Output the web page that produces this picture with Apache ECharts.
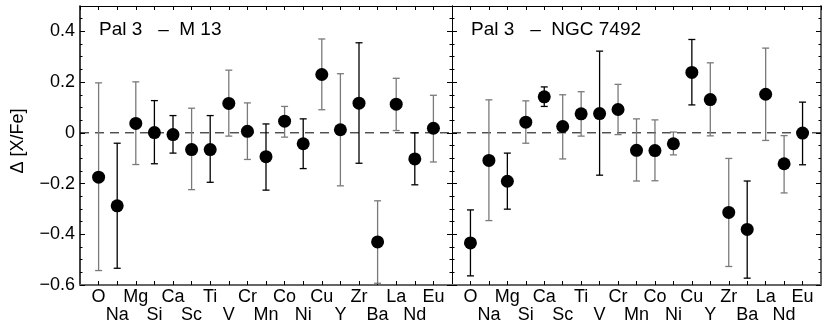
<!DOCTYPE html>
<html><head><meta charset="utf-8">
<script src="https://cdn.jsdelivr.net/npm/echarts@6/dist/echarts.min.js"></script>
<style>html,body{margin:0;padding:0;background:#fff}#c{width:830px;height:331px}</style>
</head><body><div id="c"></div>
<script>
const elements = ['O','Na','Mg','Si','Ca','Sc','Ti','V','Cr','Mn','Co','Ni','Cu','Y','Zr','Ba','La','Nd','Eu'];
const yTickLabels = ['−0.6','−0.4','−0.2','0','0.2','0.4'];
const panelTitles = ['Pal 3   –  M 13', 'Pal 3   –  NGC 7492'];
// Pal 3 - M 13
const m13Value = [-0.175,-0.288,0.037,0.001,-0.007,-0.066,-0.066,0.116,0.006,-0.094,0.046,-0.043,0.230,0.012,0.117,-0.430,0.113,-0.103,0.018];
const m13Upper = [0.197,-0.041,0.201,0.127,0.068,0.097,0.068,0.247,0.118,0.035,0.104,0.055,0.370,0.233,0.355,-0.268,0.215,0.000,0.148];
const m13Lower = [-0.543,-0.534,-0.125,-0.122,-0.080,-0.224,-0.195,-0.013,-0.105,-0.226,-0.017,-0.141,0.091,-0.209,-0.120,-0.593,0.009,-0.205,-0.115];
// Pal 3 - NGC 7492
const n7492Value = [-0.434,-0.109,-0.191,0.042,0.142,0.025,0.075,0.076,0.092,-0.069,-0.070,-0.043,0.238,0.131,-0.314,-0.381,0.152,-0.122,-0.001];
const n7492Upper = [-0.304,0.130,-0.080,0.126,0.181,0.150,0.162,0.322,0.191,0.055,0.051,0.003,0.368,0.276,-0.101,-0.190,0.334,-0.011,0.121];
const n7492Lower = [-0.564,-0.346,-0.301,-0.041,0.104,-0.103,-0.013,-0.167,-0.007,-0.190,-0.189,-0.087,0.110,-0.012,-0.527,-0.573,-0.030,-0.237,-0.126];

// styling: which error bars are drawn in black (others grey)
const blackBars = [
  ['Na','Si','Ca','Ti','Mn','Ni','Zr','Nd'],
  ['O','Mg','Ca','V','Cu','Ba','Eu']
];

const chart = echarts.init(document.getElementById('c'));
const FONT = 'Liberation Sans, Arial, Helvetica, sans-serif';
const grids = [
  {left: 80, right: 378, top: 6, bottom: 46},
  {left: 452, right: 9, top: 6, bottom: 46}
];
const xAxes = [], yAxes = [], series = [];
const panels = [[m13Value, m13Upper, m13Lower], [n7492Value, n7492Upper, n7492Lower]];

grids.forEach((g, gi) => {
  xAxes.push({
    gridIndex: gi, type: 'value', min: 0, max: 20, interval: 1, position: 'bottom',
    axisLine: {show: true, onZero: false, lineStyle: {color: '#666', width: 2}},
    axisTick: {show: true, inside: true, length: 4, lineStyle: {color: '#000'}},
    splitLine: {show: false},
    axisLabel: {
      show: true, fontFamily: FONT, fontSize: 18, color: '#000', margin: 3, lineHeight: 18,
      showMinLabel: false, showMaxLabel: false,
      formatter: v => {
        const i = Math.round(v) - 1;
        if (i < 0 || i >= elements.length) return '';
        return i % 2 === 1 ? '\n' + elements[i] : elements[i];
      }
    }
  });
  xAxes.push({
    gridIndex: gi, type: 'value', min: 0, max: 20, interval: 1, position: 'top',
    axisLine: {show: true, onZero: false, lineStyle: {color: '#000', width: 1}},
    axisTick: {show: true, inside: true, length: 4, lineStyle: {color: '#000'}},
    splitLine: {show: false}, axisLabel: {show: false}
  });
  yAxes.push({
    gridIndex: gi, type: 'value', min: -0.6, max: 0.5, interval: 0.2, position: 'left',
    axisLine: {show: true, onZero: false, lineStyle: {color: '#000', width: gi === 0 ? 1.5 : 1}},
    axisTick: {show: true, inside: true, length: 5, lineStyle: {color: '#000'}},
    splitLine: {show: false},
    axisLabel: {
      show: gi === 0, fontFamily: FONT, fontSize: 18, color: '#000', margin: 5,
      showMaxLabel: false,
      formatter: v => {
        const i = Math.round((v + 0.6) / 0.2);
        return (Math.abs(v - (-0.6 + i * 0.2)) < 1e-6 && i < yTickLabels.length) ? yTickLabels[i] : '';
      }
    }
  });
  yAxes.push({
    gridIndex: gi, type: 'value', min: -0.6, max: 0.5, interval: 0.05, position: 'left',
    axisLine: {show: false, onZero: false}, axisTick: {show: true, inside: true, length: 2.5, lineStyle: {color: '#000'}},
    splitLine: {show: false}, axisLabel: {show: false}
  });
  yAxes.push({
    gridIndex: gi, type: 'value', min: -0.6, max: 0.5, interval: 0.2, position: 'right',
    axisLine: {show: true, onZero: false, lineStyle: {color: gi === 1 ? '#666' : '#000', width: gi === 1 ? 2 : 1}},
    axisTick: {show: true, inside: true, length: 5, lineStyle: {color: '#000'}},
    splitLine: {show: false}, axisLabel: {show: false}
  });
  yAxes.push({
    gridIndex: gi, type: 'value', min: -0.6, max: 0.5, interval: 0.05, position: 'right',
    axisLine: {show: false, onZero: false}, axisTick: {show: true, inside: true, length: 2.5, lineStyle: {color: '#000'}},
    splitLine: {show: false}, axisLabel: {show: false}
  });

  const [vals, ups, lows] = panels[gi];
  const xi = gi * 2, yi = gi * 4;
  series.push({
    type: 'custom', xAxisIndex: xi, yAxisIndex: yi, z: 1, silent: true,
    data: [[0, 0, 20]],
    renderItem: (params, api) => {
      const a = api.coord([api.value(0), api.value(1)]);
      const b = api.coord([api.value(2), api.value(1)]);
      return {type: 'line', shape: {x1: a[0], y1: a[1], x2: b[0], y2: b[1]},
        style: {stroke: '#000', lineWidth: 1, lineDash: [9, 6]}};
    }
  });
  series.push({
    type: 'custom', xAxisIndex: xi, yAxisIndex: yi, z: 2,
    data: elements.map((e, i) => [i + 1, lows[i], ups[i], i]),
    renderItem: (params, api) => {
      const x = api.value(0);
      const lo = api.coord([x, api.value(1)]);
      const hi = api.coord([x, api.value(2)]);
      const idx = api.value(3);
      const col = blackBars[gi].includes(elements[idx]) ? '#000' : '#7a7a7a';
      const w = 3.5;
      const st = {stroke: col, lineWidth: 1.3};
      return {type: 'group', children: [
        {type: 'line', shape: {x1: lo[0], y1: lo[1], x2: hi[0], y2: hi[1]}, style: st},
        {type: 'line', shape: {x1: lo[0] - w, y1: lo[1], x2: lo[0] + w, y2: lo[1]}, style: st},
        {type: 'line', shape: {x1: hi[0] - w, y1: hi[1], x2: hi[0] + w, y2: hi[1]}, style: st}
      ]};
    }
  });
  series.push({
    type: 'scatter', xAxisIndex: xi, yAxisIndex: yi, z: 3,
    data: elements.map((e, i) => [i + 1, vals[i]]),
    symbol: 'circle', symbolSize: 13, itemStyle: {color: '#000', opacity: 1}
  });
});

chart.setOption({
  animation: false,
  grid: grids,
  xAxis: xAxes,
  yAxis: yAxes,
  series: series,
  graphic: [
    {type: 'text', left: 99, top: 20, style: {text: panelTitles[0], font: '19px ' + FONT, fill: '#000'}},
    {type: 'text', left: 471, top: 20, style: {text: panelTitles[1], font: '19px ' + FONT, fill: '#000'}},
    {type: 'text', x: 18, y: 141, rotation: Math.PI / 2,
     style: {text: 'Δ [X/Fe]', font: '18px ' + FONT, fill: '#000', align: 'center', verticalAlign: 'middle'}}
  ]
});
</script>
</body></html>
